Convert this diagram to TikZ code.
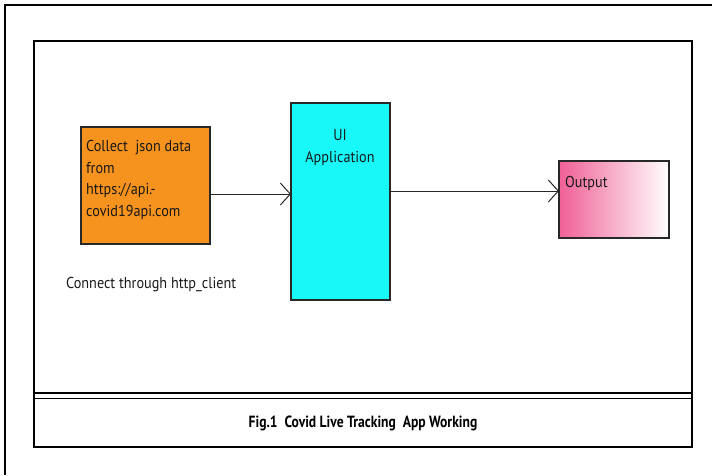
\documentclass[tikz,border=0pt]{standalone}
\usepackage{fontspec}
\setmainfont{PT Sans}
\newfontfamily\narrowsans[FakeStretch=0.9]{PT Sans}
\newfontfamily\captionsans[FakeStretch=0.84]{PT Sans}
\usetikzlibrary{arrows.meta}
\definecolor{boxorange}{RGB}{246,146,30}
\definecolor{boxcyan}{RGB}{24,248,248}
\definecolor{boxpink}{RGB}{240,96,150}
\definecolor{edgedark}{RGB}{40,40,40}
\tikzset{
  frame/.style={draw=black, line width=1.4pt},
  block/.style={draw=edgedark, line width=1.3pt, inner sep=0pt},
  label/.style={inner sep=0pt, font=\narrowsans\fontsize{15.8}{21.5}\selectfont, text=black!90},
  flow/.style={draw=black!85, line width=1pt, -{Straight Barb[length=10pt,width=22pt,line width=1pt]}},
}
\begin{document}
\begin{tikzpicture}[x=1pt,y=-1pt]
  \useasboundingbox (0,0) rectangle (712,475);
  % page frame (only top and left edges fall on the page)
  \draw[frame] (712,5) -- (5,5) -- (5,475);
  % inner panel with caption strip
  \draw[frame] (34,41) rectangle (692,447);
  \draw[black, line width=2pt] (34,393) -- (692,393);
  \draw[black, line width=1.3pt] (34,398.5) -- (692,398.5);
  \node[inner sep=0pt, font=\captionsans\fontsize{16.2}{18}\bfseries\selectfont] (caption) at (363,423)
    {Fig.1\ \ Covid Live Tracking\ \ App Working};

  % blocks
  \path[block, fill=boxorange] (81,127) rectangle (210,244);
  \coordinate (srcE) at (210,194);
  \node[label, anchor=base west, align=left] (srctext) at (86,216)
    {Collect\ \ json data\\from\\https://api.-\\covid19api.com};

  \path[block, fill=boxcyan] (291,103) rectangle (390,300);
  \coordinate (uiW) at (291,194);
  \coordinate (uiE) at (390,191);
  \node[label, anchor=base, align=center] (uitext) at (340,162)
    {UI\\Application};

  \path[block, left color=boxpink, middle color=boxpink!45, right color=white] (559,161) rectangle (669,238);
  \coordinate (outW) at (559,191);
  \node[label, anchor=base west] (outtext) at (565,187) {Output};

  \node[label, anchor=base west] (conn) at (66,288) {Connect through http\_client};

  % connectors
  \draw[flow] (srcE) -- (uiW);
  \draw[flow] (uiE) -- (outW);
\end{tikzpicture}
\end{document}
